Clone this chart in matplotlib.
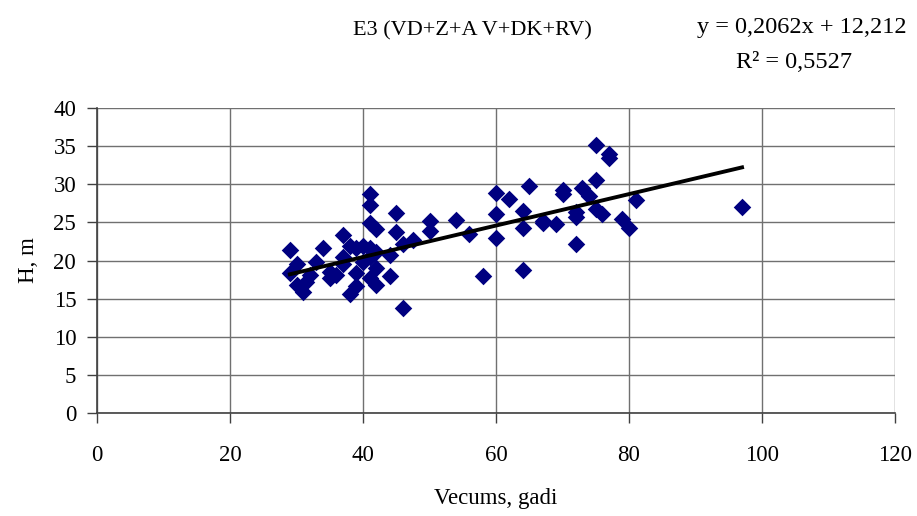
import numpy as np
import matplotlib.pyplot as plt

# vecums (gadi) un augstums H (m), nolasīts no attēla
vecums = [29, 29, 30, 30, 31, 31.5, 32, 33, 34, 35, 35, 36,
          37, 37, 37, 38, 38, 39, 39, 39, 40, 40,
          41, 41, 41, 41, 41, 41, 42, 42, 42, 42,
          44, 44, 45, 45, 46, 46, 47.5, 50, 50, 54, 56, 58,
          60, 60, 60, 62, 64, 64, 64, 65, 67, 67, 69, 70, 70,
          72, 72, 72, 73, 74, 75, 75, 75, 76, 77, 77, 79, 80, 81, 97]
augstums = [21.4, 18.3, 19.5, 16.8, 15.9, 17.2, 18.1, 19.8, 21.7, 18.5, 17.7, 18.1,
            23.3, 20.5, 19.6, 21.9, 15.6, 21.7, 18.3, 16.7, 21.9, 19.8,
            28.7, 27.3, 24.9, 21.7, 20.5, 17.7, 24.1, 21.1, 19.0, 16.8,
            20.7, 18.0, 26.2, 23.8, 22.2, 13.8, 22.7, 25.2, 23.9, 25.3, 23.5, 18.0,
            28.8, 26.1, 23.0, 28.1, 26.5, 24.3, 18.7, 29.8, 25.2, 24.9, 24.8, 29.2, 28.7,
            26.4, 25.7, 22.2, 29.5, 28.4, 35.2, 30.5, 26.7, 26.1, 34.0, 33.5, 25.5, 24.3, 28.0, 27.0]

slope = 0.2062
intercept = 12.212

x_ticks = [0, 20, 40, 60, 80, 100, 120]
y_ticks = [0, 5, 10, 15, 20, 25, 30, 35, 40]

plt.rcParams['font.family'] = ['Liberation Serif', 'DejaVu Serif']

fig = plt.figure(figsize=(9.17, 5.16), dpi=100)
ax = fig.add_axes([0.1058, 0.1996, 0.8702, 0.5911])

ax.scatter(vecums, augstums, marker='D', s=80, color='#000080', zorder=3, linewidths=0)

xl = np.array([min(vecums), max(vecums)])
ax.plot(xl, slope * xl + intercept, color='black', lw=2.8, zorder=4)

ax.set_xlim(0, 120)
ax.set_ylim(0, 40)
ax.set_xticks(x_ticks)
ax.set_yticks(y_ticks)
ax.grid(True, color='#707070', lw=1)
ax.set_axisbelow(True)
for s in ['top', 'right']:
    ax.spines[s].set_visible(False)
for s in ['left', 'bottom']:
    ax.spines[s].set_color('#404040')
    ax.spines[s].set_linewidth(1.2)
ax.tick_params(direction='out', length=7, width=1, color='#404040', labelsize=16.5, pad=8)
ax.tick_params(axis='x', pad=16)

ax.set_xlabel('Vecums, gadi', fontsize=16.5, labelpad=16)
ax.set_ylabel('H, m', fontsize=16.5, labelpad=10)

fig.text(0.515, 0.94, 'E3 (VD+Z+A V+DK+RV)', fontsize=16, ha='center', va='center')
fig.text(0.874, 0.946, 'y = 0,2062x + 12,212', fontsize=17.5, ha='center', va='center')
fig.text(0.866, 0.878, 'R² = 0,5527', fontsize=17.5, ha='center', va='center')

fig.savefig('out.png', dpi=100)
